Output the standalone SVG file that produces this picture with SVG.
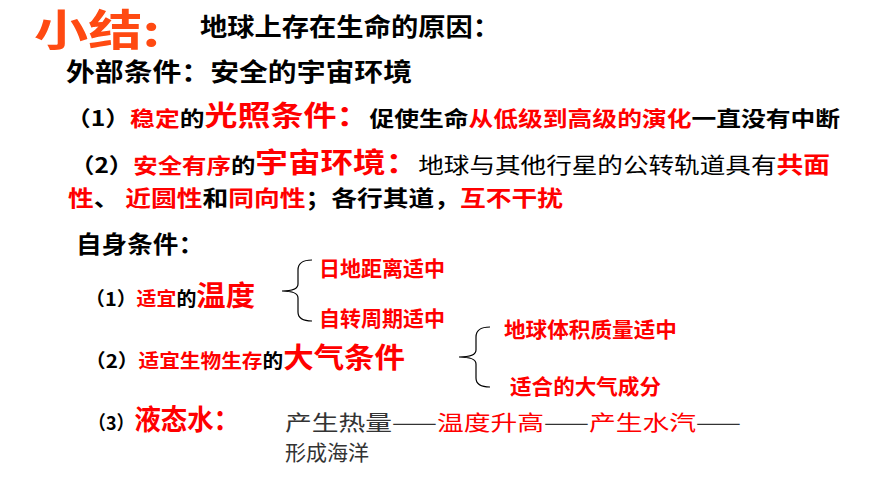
<svg xmlns="http://www.w3.org/2000/svg" width="870" height="489" viewBox="0 0 870 489">
<style>
text{font-family:"Noto Sans CJK SC","Noto Sans",sans-serif;font-weight:bold;fill:#000}
.r{fill:#ff0000}
.n{font-weight:normal}
.brace{fill:none;stroke:#000;stroke-width:1.2}
</style>
<rect width="870" height="489" fill="#fff"/>
<g id="title">
<text x="34" y="46" font-size="43" textLength="126" lengthAdjust="spacingAndGlyphs" style="fill:#ff4a12">小结:</text>
<text x="200" y="36" font-size="25" textLength="300" lengthAdjust="spacingAndGlyphs">地球上存在生命的原因：</text>
</g>
<g id="external">
<text x="66" y="81" font-size="25" textLength="346" lengthAdjust="spacingAndGlyphs">外部条件：安全的宇宙环境</text>
<text x="66" y="126" font-size="21" textLength="774" lengthAdjust="spacingAndGlyphs">（1）<tspan class="r">稳定</tspan>的<tspan class="r" font-size="28">光照条件：</tspan>促使生命<tspan class="r">从低级到高级的演化</tspan>一直没有中断</text>
<text x="70" y="173" font-size="21" textLength="760" lengthAdjust="spacingAndGlyphs">（2）<tspan class="r">安全有序</tspan>的<tspan class="r" font-size="28">宇宙环境：</tspan><tspan class="n" font-size="22">地球与其他行星的公转轨道具有</tspan><tspan class="r" font-size="23">共面</tspan></text>
<text x="68" y="206" font-size="22" textLength="495" lengthAdjust="spacingAndGlyphs"><tspan class="r">性</tspan>、 <tspan class="r">近圆性</tspan>和<tspan class="r">同向性</tspan>；各行其道，<tspan class="r">互不干扰</tspan></text>
</g>
<g id="internal">
<text x="76" y="253" font-size="24" textLength="128" lengthAdjust="spacingAndGlyphs">自身条件：</text>
</g>
<g id="temp">
<text x="85" y="306" font-size="19" textLength="170" lengthAdjust="spacingAndGlyphs">（1）<tspan class="r">适宜</tspan>的<tspan class="r" font-size="28">温度</tspan></text>
<text x="319" y="276" font-size="21" class="r">日地距离适中</text>
<text x="319" y="326" font-size="21" class="r">自转周期适中</text>
</g>
<g id="air">
<text x="85" y="368" font-size="19" textLength="320" lengthAdjust="spacingAndGlyphs">（2）<tspan class="r">适宜生物生存</tspan>的<tspan class="r" font-size="28">大气条件</tspan></text>
<text x="504" y="337" font-size="21" class="r" textLength="173" lengthAdjust="spacingAndGlyphs">地球体积质量适中</text>
<text x="510" y="394" font-size="21" class="r" textLength="151" lengthAdjust="spacingAndGlyphs">适合的大气成分</text>
</g>
<g id="water">
<text x="88" y="430" font-size="19" textLength="152" lengthAdjust="spacingAndGlyphs">（3）<tspan class="r" font-size="28">液态水：</tspan></text>
<text x="285" y="430" font-size="21" class="n" style="fill:#333" textLength="456" lengthAdjust="spacingAndGlyphs">产生热量——<tspan class="r">温度升高</tspan>——<tspan class="r">产生水汽</tspan>——</text>
<text x="285" y="460" font-size="21" class="n" style="fill:#333">形成海洋</text>
</g>
<g id="connectors">
<path class="brace" d="M312,260 Q298,260 298,270 L298,284 Q298,291 282,291 Q298,291 298,298 L298,312 Q298,321 312,321"/>
<path class="brace" d="M490,327 Q476,327 476,337 L476,350 Q476,357 459,357 Q476,357 476,364 L476,378 Q476,387 490,387"/>
</g>
</svg>
